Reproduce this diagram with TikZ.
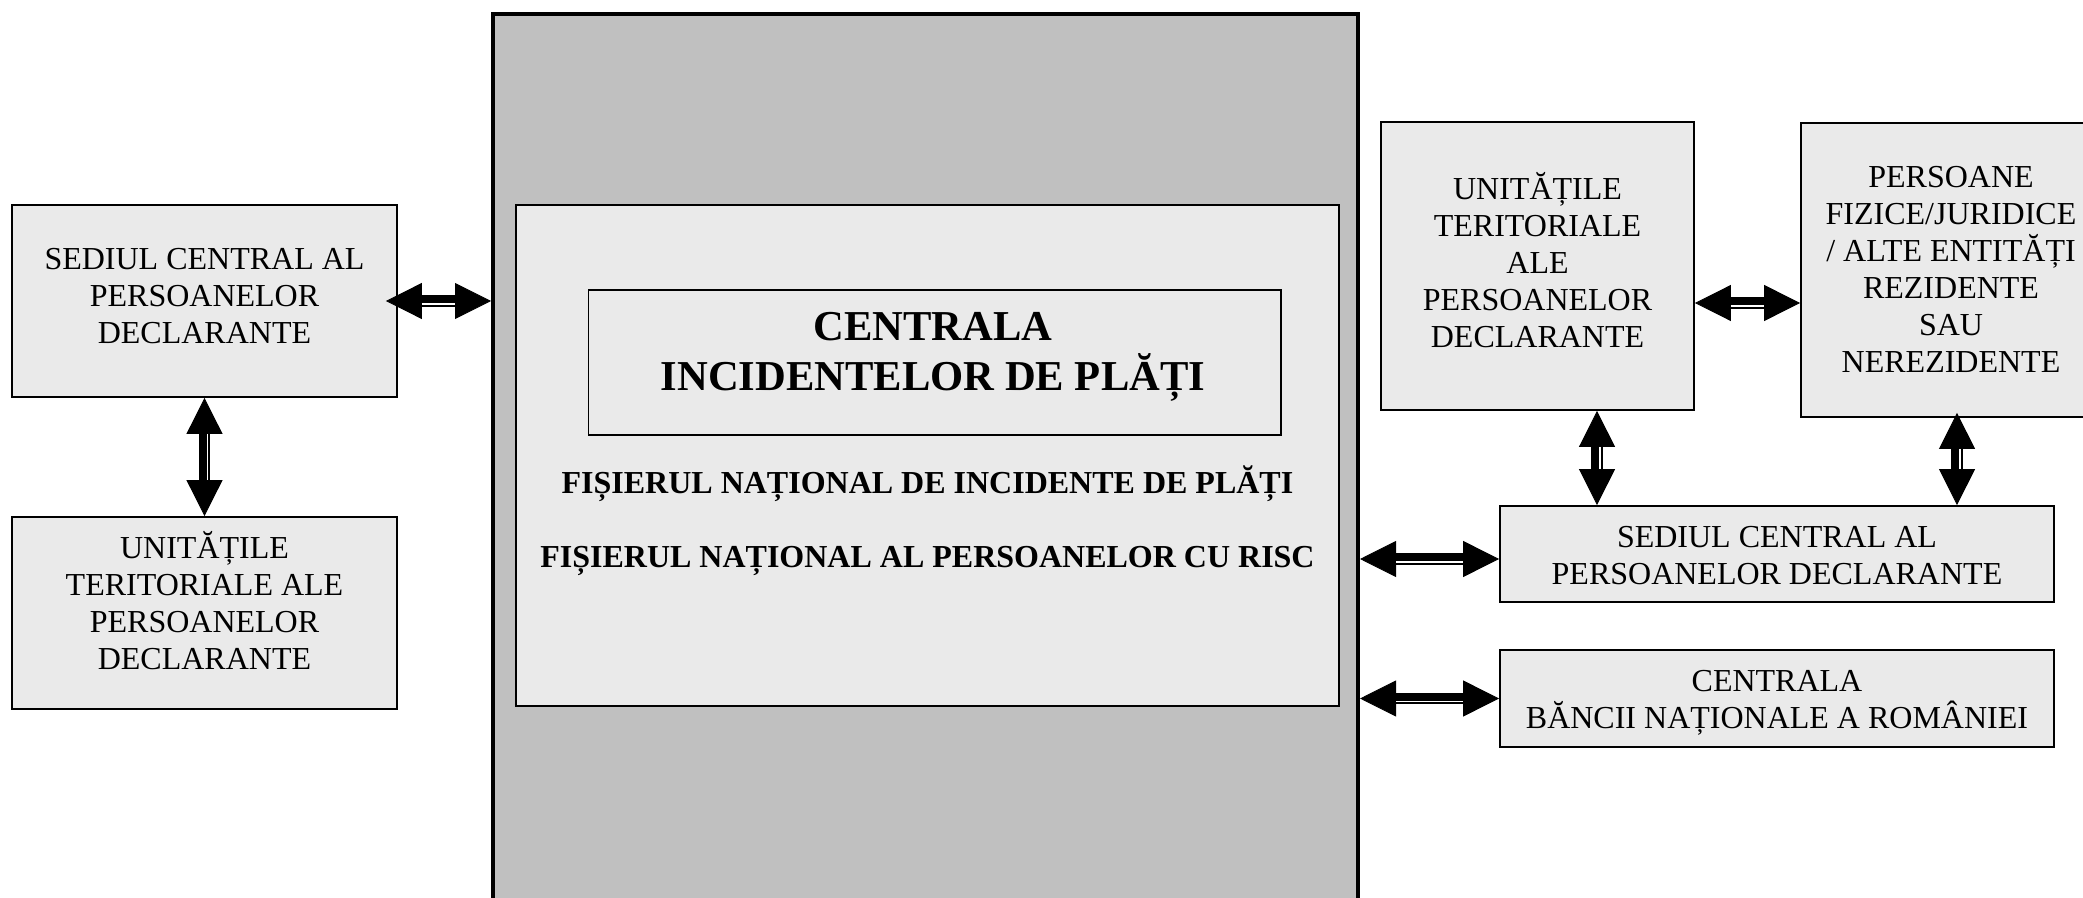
\documentclass[tikz,border=0pt]{standalone}
\usepackage{fontspec}
\setmainfont{Liberation Serif}
\usetikzlibrary{arrows.meta,calc}
\definecolor{bggray}{RGB}{192,192,192}
\definecolor{boxgray}{RGB}{234,234,234}
\begin{document}
\begin{tikzpicture}[x=0.5pt,y=-0.5pt,
  box/.style={draw=black, line width=0.9pt, fill=boxgray, inner sep=0pt},
  txt/.style={inner sep=0pt, align=center, font=\fontsize{16}{18.5}\selectfont},
  boldtxt/.style={anchor=base, inner sep=0pt, font=\fontsize{16}{18.5}\selectfont\bfseries},
  titletxt/.style={anchor=base, inner sep=0pt, font=\fontsize{21.3}{25}\selectfont\bfseries},
  dblh/.style={draw=black, line width=0.4pt, {Triangle[length=18pt,width=18pt]}-{Triangle[length=18pt,width=18pt]},
    preaction={draw=black, -, line width=5.8pt, shorten <=17pt, shorten >=17pt},
    postaction={draw=white, -, line width=0.85pt, shorten <=18pt, shorten >=18pt, transform canvas={yshift=-1.5pt}}},
  dblv/.style={draw=black, line width=0.4pt, {Triangle[length=18pt,width=18pt]}-{Triangle[length=18pt,width=18pt]},
    preaction={draw=black, -, line width=5.8pt, shorten <=17pt, shorten >=17pt},
    postaction={draw=white, -, line width=0.85pt, shorten <=18pt, shorten >=18pt, transform canvas={xshift=1.5pt}}},
]
\path[use as bounding box] (0,0) rectangle (2083,898);
\clip (0,0) rectangle (2083,898);

% central block
\node[draw=black, line width=2pt, fill=bggray, minimum width=432.5pt, minimum height=458pt, inner sep=0pt] (big) at (925.5,472) {};
\node[box, minimum width=411.5pt, minimum height=250.5pt] (inner) at (927.5,455.5) {};
\node[draw=black, line width=0.9pt, minimum width=346.25pt, minimum height=72.5pt, inner sep=0pt] (title) at (934.75,362.5) {};
\node[titletxt] (t1) at (933,341) {CENTRALA};
\node[titletxt] (t2) at (933,391) {INCIDENTELOR DE PLĂȚI};
\node[boldtxt] (f1) at (927.5,493.5) {FIȘIERUL NAȚIONAL DE INCIDENTE DE PLĂȚI};
\node[boldtxt] (f2) at (927.5,567.5) {FIȘIERUL NAȚIONAL AL PERSOANELOR CU RISC};

% left side
\node[box, minimum width=192.5pt, minimum height=96pt] (ltop) at (204.5,301) {};
\node[txt] (ltopt) at ([yshift=2.25pt]ltop.center) {SEDIUL CENTRAL AL\\PERSOANELOR\\DECLARANTE};
\node[box, minimum width=192.5pt, minimum height=96pt] (lbot) at (204.5,613) {};
\node[txt] (lbott) at ([yshift=6.25pt]lbot.center) {UNITĂȚILE\\TERITORIALE ALE\\PERSOANELOR\\DECLARANTE};

% right side
\node[box, minimum width=156.5pt, minimum height=144pt] (runit) at (1537.5,266) {};
\node[txt] (runitt) at ([yshift=3.15pt]runit.center) {UNITĂȚILE\\TERITORIALE\\ALE\\PERSOANELOR\\DECLARANTE};
\node[box, minimum width=150pt, minimum height=147pt] (rpers) at (1951,270) {};
\node[txt] (rperst) at ([yshift=0.5pt]rpers.center) {PERSOANE\\FIZICE/JURIDICE\\/ ALTE ENTITĂȚI\\REZIDENTE\\SAU\\NEREZIDENTE};
\node[box, minimum width=277pt, minimum height=48pt] (rsed) at (1777,554) {};
\node[txt] (rsedt) at ([yshift=-0.6pt]rsed.center) {SEDIUL CENTRAL AL\\PERSOANELOR DECLARANTE};
\node[box, minimum width=277pt, minimum height=48.5pt] (rbnr) at (1777,698.5) {};
\node[txt] (rbnrt) at ([yshift=-2.35pt]rbnr.center) {CENTRALA\\BĂNCII NAȚIONALE A ROMÂNIEI};

% connectors
\coordinate (c1) at ([xshift=-6pt]ltop.east);
\draw[dblh] (c1) -- (c1 -| big.west);
\draw[dblv] (ltop.south) -- (lbot.north);
\coordinate (c3) at ([yshift=-18.5pt]runit.east);
\draw[dblh] (c3) -- (c3 -| rpers.west);
\coordinate (c4) at ([xshift=29.75pt]runit.south);
\draw[dblv] (c4) -- (c4 |- rsed.north);
\coordinate (c5) at ([xshift=3pt,yshift=2.5pt]rpers.south);
\draw[dblv] (c5) -- (c5 |- rsed.north);
\coordinate (c6) at ([yshift=-2.5pt]rsed.west);
\draw[dblh] (c6 -| big.east) -- (c6);
\draw[dblh] (rbnr.west -| big.east) -- (rbnr.west);
\end{tikzpicture}
\end{document}
